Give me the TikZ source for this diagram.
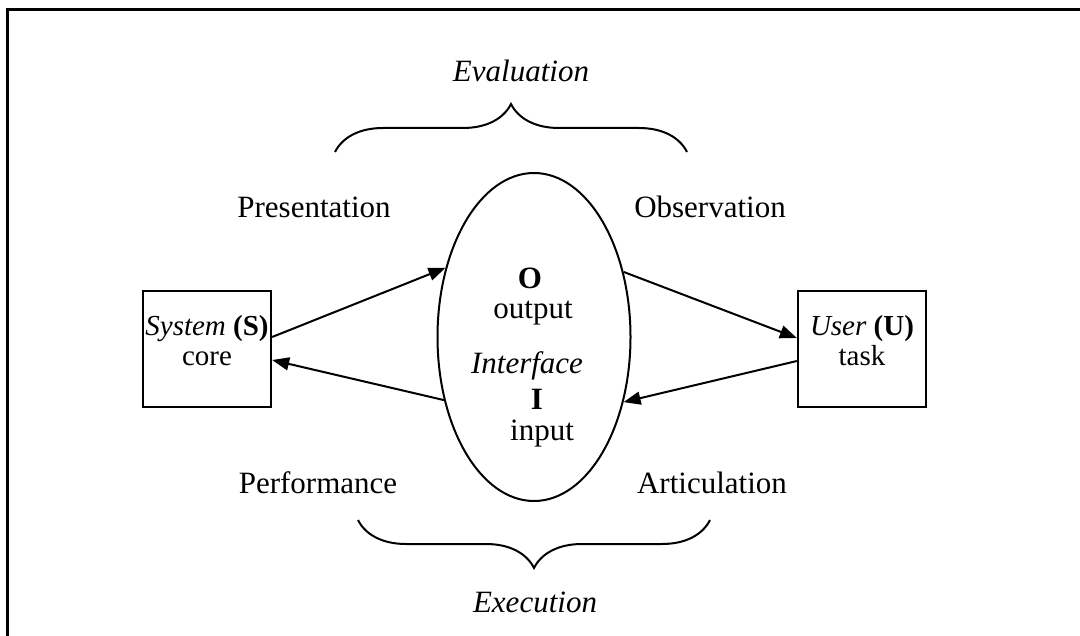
\documentclass[tikz,border=0pt]{standalone}
\usepackage{fontspec}
\setmainfont{Liberation Serif}
\usetikzlibrary{shapes.geometric,arrows.meta,decorations.pathreplacing}
\newcommand{\Unit}{0.5pt}
\tikzset{Box/.style={
    draw=black,
    line width=1.15pt,
    minimum width=64pt,
    minimum height=58pt,
    inner sep=0pt,
    align=center,
    }
}

\begin{document}
\begin{tikzpicture}[x=\Unit, y=-\Unit,
    font=\fontsize{15.5}{15}\selectfont,
    lbl/.style={inner sep=0pt, anchor=center},
    boxtxt/.style={inner sep=0pt, align=center, font=\fontsize{14.5}{15}\selectfont},
    arr/.style={line width=1pt, -{Triangle[length=8.5pt,width=6.5pt]}},
    brc/.style={line width=1pt, decorate, decoration={brace, amplitude=24pt}},
]
\useasboundingbox (0,0) rectangle (1080,636);
% frame
\draw[line width=1.5pt] (7.5,640) -- (7.5,9.5) -- (1085,9.5);

\node [Box] (sys) at (207,349) {};
\node [Box] (usr) at (862,349) {};
\node [boxtxt] (systxt) at (207,341) {\textit{System} \textbf{(S)}\\core};
\node [boxtxt] (usrtxt) at (862,341) {\textit{User} \textbf{(U)}\\task};
\node [ellipse, draw=black, line width=1pt, inner sep=0pt,
       minimum width=96.5pt, minimum height=164pt] (ifc) at (534,337) {};

\node [lbl] (o) at (530,278) {\textbf{O}};
\node [lbl] (out) at (533,313) {output};
\node [lbl] (itf) at (527,366) {\textit{Interface}};
\node [lbl] (i) at (537,399) {\textbf{I}};
\node [lbl] (in) at (542,434) {input};

\node [lbl] (pres) at (314,207) {Presentation};
\node [lbl] (obs) at (710,207) {Observation};
\node [lbl] (perf) at (318,483) {Performance};
\node [lbl] (art) at (712,483) {Articulation};
\node [lbl] (eval) at (521,71) {\textit{Evaluation}};
\node [lbl] (exec) at (535,602) {\textit{Execution}};

% braces
\coordinate (evalL) at (335,152);
\coordinate (evalR) at (687,152);
\coordinate (execL) at (358,520);
\coordinate (execR) at (710,520);
\draw [brc] (evalL) -- (evalR);
\draw [brc] (execR) -- (execL);

% arrows
\draw [arr] ([yshift=6pt]sys.east) -- (ifc.142);
\draw [arr] (ifc.215) -- ([yshift=-5.5pt]sys.east);
\draw [arr] (ifc.36) -- ([yshift=5.5pt]usr.west);
\draw [arr] ([yshift=-6pt]usr.west) -- (ifc.324);
\end{tikzpicture}
\end{document}
